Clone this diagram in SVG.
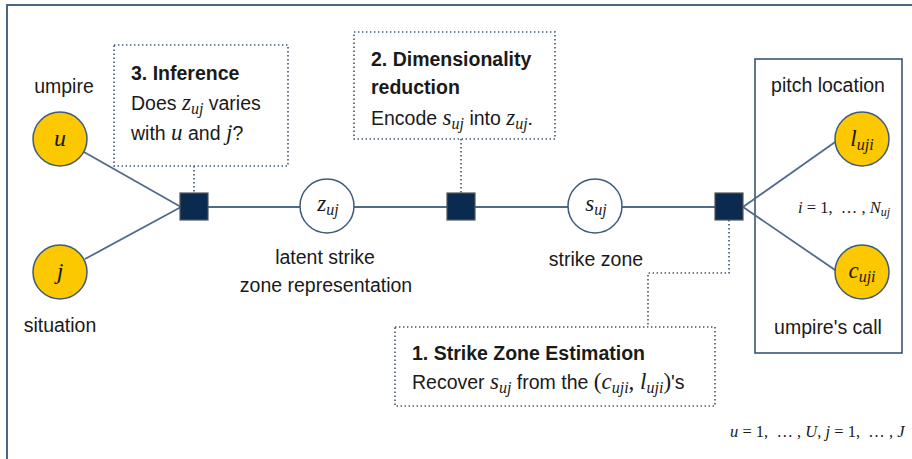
<svg xmlns="http://www.w3.org/2000/svg" width="912" height="459" viewBox="0 0 912 459">
<style>
.t{font-family:"Liberation Sans",Arial,sans-serif;font-size:19.5px;fill:#1a1a1a}
.b{font-weight:bold}
.m{font-family:"Liberation Serif","Times New Roman",serif;font-style:italic;font-size:23px;fill:#1a1a1a}
.s{font-family:"Liberation Serif","Times New Roman",serif;font-style:italic;font-size:16px}
.r{font-family:"Liberation Serif","Times New Roman",serif;font-style:normal}
.obs{fill:#fcc800;stroke:#3f5b7a;stroke-width:1.5}
.lat{fill:#fff;stroke:#3f5b7a;stroke-width:1.5}
.fac{fill:#0b2a4f;stroke:#555;stroke-width:1.2}
.edge{stroke:#4f6b8a;stroke-width:1.8;fill:none}
.dot{stroke:#3e5572;stroke-width:1.6;fill:none;stroke-dasharray:1.4 2.6}
</style>
<rect x="7" y="5" width="920" height="470" fill="none" stroke="#4b6584" stroke-width="2"/>
<g id="plate">
<rect x="755" y="59" width="147" height="294" fill="none" stroke="#2c4a6e" stroke-width="1.5"/>
<text class="m" x="798" y="213" style="font-size:16.5px" xml:space="preserve">i <tspan class="r">= 1,  … ,</tspan> N<tspan class="s" style="font-size:12px" dy="3">uj</tspan></text>
</g>
<g id="connectors">
<line class="edge" x1="84" y1="152" x2="181" y2="207"/>
<line class="edge" x1="85" y1="259" x2="181" y2="207"/>
<line class="edge" x1="208" y1="207" x2="300" y2="207"/>
<line class="edge" x1="354" y1="207" x2="447" y2="207"/>
<line class="edge" x1="475" y1="207" x2="568" y2="207"/>
<line class="edge" x1="622" y1="207" x2="715" y2="207"/>
<line class="edge" x1="743" y1="207" x2="838" y2="140"/>
<line class="edge" x1="743" y1="207" x2="838" y2="272"/>
<path class="dot" d="M194 166V193"/>
<path class="dot" d="M461 139V193"/>
<path class="dot" d="M729 220V273H648V327"/>
</g>
<g id="node-u">
<circle class="obs" cx="60" cy="139" r="27"/>
<text class="m" x="60" y="146" text-anchor="middle" style="font-size:24px">u</text>
<text class="t" x="64" y="93" text-anchor="middle">umpire</text>
</g>
<g id="node-j">
<circle class="obs" cx="60" cy="272" r="27"/>
<text class="m" x="60" y="279" text-anchor="middle" style="font-size:24px">j</text>
<text class="t" x="60" y="332" text-anchor="middle">situation</text>
</g>
<g id="factor-1">
<rect class="fac" x="180" y="193" width="28" height="27"/>
</g>
<g id="node-z">
<circle class="lat" cx="327" cy="206" r="27"/>
<text class="m" x="328" y="211" text-anchor="middle">z<tspan class="s" dy="4">uj</tspan></text>
<text class="t" x="325" y="264" text-anchor="middle">latent strike</text>
<text class="t" x="326" y="292" text-anchor="middle">zone representation</text>
</g>
<g id="factor-2">
<rect class="fac" x="447" y="193" width="28" height="27"/>
</g>
<g id="node-s">
<circle class="lat" cx="595" cy="206" r="27"/>
<text class="m" x="596" y="211" text-anchor="middle">s<tspan class="s" dy="4">uj</tspan></text>
<text class="t" x="596" y="266" text-anchor="middle">strike zone</text>
</g>
<g id="factor-3">
<rect class="fac" x="715" y="193" width="28" height="27"/>
</g>
<g id="node-l">
<circle class="obs" cx="862" cy="139" r="27"/>
<text class="m" x="862" y="146" text-anchor="middle">l<tspan class="s" dy="4">uji</tspan></text>
<text class="t" x="828" y="92" text-anchor="middle">pitch location</text>
</g>
<g id="node-c">
<circle class="obs" cx="862" cy="272" r="27"/>
<text class="m" x="862" y="278" text-anchor="middle">c<tspan class="s" dy="4">uji</tspan></text>
<text class="t" x="828" y="334" text-anchor="middle">umpire's call</text>
</g>
<g id="box-3">
<rect class="dot" x="114" y="45" width="174" height="121"/>
<text class="t b" x="131" y="80">3. Inference</text>
<text class="t" x="131" y="110">Does <tspan class="m">z</tspan><tspan class="s" dy="4">uj</tspan><tspan dy="-4"> varies</tspan></text>
<text class="t" x="131" y="140">with <tspan class="m">u</tspan> and <tspan class="m">j</tspan>?</text>
</g>
<g id="box-2">
<rect class="dot" x="354" y="32" width="201" height="107"/>
<text class="t b" x="371" y="66">2. Dimensionality</text>
<text class="t b" x="371" y="94">reduction</text>
<text class="t" x="371" y="125">Encode <tspan class="m">s</tspan><tspan class="s" dy="4">uj</tspan><tspan dy="-4"> into </tspan><tspan class="m">z</tspan><tspan class="s" dy="4">uj</tspan><tspan class="r" dy="-4">.</tspan></text>
</g>
<g id="box-1">
<rect class="dot" x="395" y="327" width="320" height="79"/>
<text class="t b" x="412" y="360">1. Strike Zone Estimation</text>
<text class="t" x="412" y="389">Recover <tspan class="m">s</tspan><tspan class="s" dy="4">uj</tspan><tspan dy="-4"> from the </tspan><tspan class="m"><tspan class="r">(</tspan>c</tspan><tspan class="s" dy="4">uji</tspan><tspan class="m r" dy="-4">,</tspan><tspan class="m"> l</tspan><tspan class="s" dy="4">uji</tspan><tspan class="m r" dy="-4">)</tspan>'s</text>
</g>
<text class="m" x="730" y="437" style="font-size:16.5px" xml:space="preserve">u <tspan class="r">= 1,  … ,</tspan> U<tspan class="r">,</tspan> j <tspan class="r">= 1,  … ,</tspan> J</text>
</svg>
